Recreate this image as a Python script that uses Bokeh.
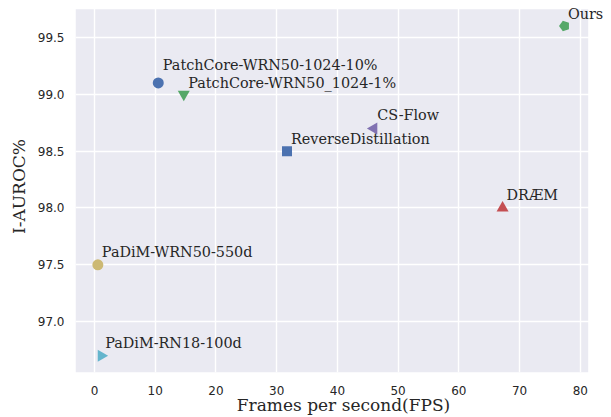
from bokeh.plotting import figure
from bokeh.models import (ColumnDataSource, SingleIntervalTicker, Range1d, LabelSet,
                          NumeralTickFormatter, BoxAnnotation)
from bokeh.core.properties import value
from bokeh.embed import file_html
from bokeh.resources import INLINE

methods = ["PatchCore-WRN50-1024-10%", "PatchCore-WRN50_1024-1%", "ReverseDistillation",
           "CS-Flow", "Ours", "DRÆM", "PaDiM-WRN50-550d", "PaDiM-RN18-100d"]
fps = [10.5, 14.7, 31.7, 46.0, 77.4, 67.2, 0.55, 1.1]
auroc = [99.1, 99.0, 98.5, 98.7, 99.6, 98.0, 97.5, 96.7]

# axis limits of the shaded plotting area
X_MIN, X_MAX = -3.13, 81.3
Y_MIN, Y_MAX = 96.553, 99.748

colors = ["#4C72B0", "#55A868", "#4C72B0", "#8172B2", "#55A868", "#C44E52", "#CCB974", "#64B5CD"]
markers = ["circle", "inverted_triangle", "square", "triangle", "pentagon", "triangle", "circle", "triangle"]
angles = [0, 0, 0, 1.5708, 0, 0, 0, -1.5708]
sizes = [11, 12, 10, 12, 11, 12, 11, 12]
lbl_dx = [4.5, 4.4, 4, 3.4, 3.4, 4, 4, 4]
lbl_dy = [12.7, 6.6, 7.4, 8, 7.4, 7.5, 7.4, 7.7]

BG = "#EAEAF2"
TXT = "#262626"

W, H = 611, 417
BL, BB = 75, 44
frame_w = W - BL
frame_h = H - BB
px_x = (587.7 - 75) / (X_MAX - X_MIN)
px_y = 114.0
x_end = X_MIN + frame_w / px_x
y_end = Y_MIN + frame_h / px_y

p = figure(width=W, height=H, output_backend="svg", toolbar_location=None,
           x_range=Range1d(X_MIN, x_end), y_range=Range1d(Y_MIN, y_end),
           min_border_left=BL, min_border_right=0, min_border_top=0, min_border_bottom=BB)
p.background_fill_color = "white"
p.border_fill_color = "white"
p.outline_line_color = None

shade = BoxAnnotation(left=X_MIN, right=X_MAX, bottom=Y_MIN, top=Y_MAX,
                      fill_color=BG, fill_alpha=1.0, line_color=None, level="image")
p.add_layout(shade)

for ax in (p.xaxis, p.yaxis):
    ax.axis_line_color = None
    ax.major_tick_line_color = None
    ax.minor_tick_line_color = None
    ax.major_tick_out = 0
    ax.major_tick_in = 0
    ax.minor_tick_out = 0
    ax.minor_tick_in = 0
    ax.major_label_text_font = "DejaVu Sans"
    ax.major_label_text_font_size = "12px"
    ax.major_label_text_color = TXT
    ax.axis_label_text_font = "DejaVu Serif"
    ax.axis_label_text_font_size = "17px"
    ax.axis_label_text_font_style = "normal"
    ax.axis_label_text_color = TXT

p.xaxis.ticker = SingleIntervalTicker(interval=10)
p.yaxis.ticker = SingleIntervalTicker(interval=0.5)
p.yaxis.formatter = NumeralTickFormatter(format="0.0")
p.xaxis.axis_label = "Frames per second(FPS)"
p.yaxis.axis_label = "I-AUROC%"
p.xaxis.major_label_standoff = 13
p.yaxis.major_label_standoff = 11
p.xaxis.axis_label_standoff = -3
p.yaxis.axis_label_standoff = 6

p.xgrid.grid_line_color = "white"
p.ygrid.grid_line_color = "white"
p.xgrid.grid_line_width = 1.4
p.ygrid.grid_line_width = 1.4

for i in range(len(methods)):
    if markers[i] == "pentagon":
        p.ngon(x=[fps[i]], y=[auroc[i]], radius=sizes[i] / 2, radius_units="screen", n=5,
               angle=1.5708, fill_color=colors[i], line_color=None)
    else:
        p.scatter(x=[fps[i]], y=[auroc[i]], marker=markers[i], size=sizes[i], angle=angles[i],
                  fill_color=colors[i], line_color=None)

src = ColumnDataSource(dict(x=fps, y=auroc, t=methods, dx=lbl_dx, dy=lbl_dy))
labels = LabelSet(x="x", y="y", text="t", x_offset="dx", y_offset="dy", source=src,
                  text_font=value("DejaVu Serif"), text_font_size="14.4px", text_color=TXT,
                  text_align="left", text_baseline="alphabetic")
p.add_layout(labels)

open("out.html", "w").write(file_html(p, INLINE))
